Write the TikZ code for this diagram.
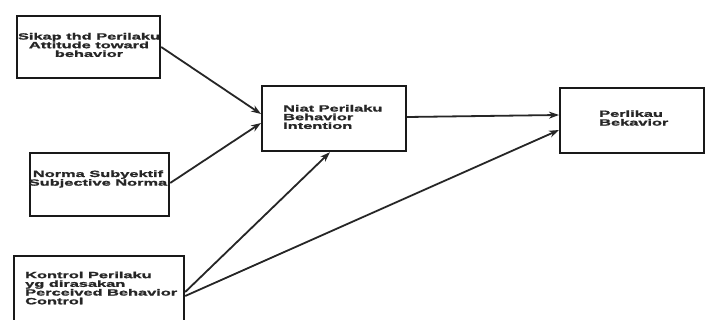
\documentclass[tikz,border=0pt]{standalone}
\usepackage{fontspec}
\newfontfamily\diagfont[FakeStretch=1.82,FakeBold=1.5]{Liberation Sans Bold}
\usetikzlibrary{arrows.meta,calc}
\begin{document}
\begin{tikzpicture}[x=1pt,y=-1pt,
  boxst/.style={draw=black!90,line width=2.2pt,minimum width=#1,inner sep=0pt,anchor=north west},
  txt/.style={font=\diagfont\fontsize{9}{8.7}\selectfont,inner sep=0pt,text=black!85},
  conn/.style={line width=1.8pt,draw=black!85,-{Stealth[length=10pt,width=7pt]}}]
\useasboundingbox (0,0) rectangle (705,320);
\clip (0,0) rectangle (705,320);
\fill[white] (0,0) rectangle (705,320);
\node[boxst=143pt,minimum height=62pt] (b1) at (16,15) {};
\node[boxst=139pt,minimum height=63pt] (b2) at (29,152) {};
\node[boxst=170pt,minimum height=80pt] (b3) at (13,255) {};
\node[boxst=144pt,minimum height=65pt] (b4) at (261,85) {};
\node[boxst=144pt,minimum height=65pt] (b5) at (559,87) {};
\node[txt,align=center] (t1) at (89,45) {Sikap thd Perilaku\\Attitude toward\\behavior};
\node[txt,align=center] (t2) at (98,179) {Norma Subyektif\\Subjective Norma};
\node[txt,align=left,anchor=west] (t3) at (25,288) {Kontrol Perilaku\\yg dirasakan\\Perceived Behavior\\Control};
\node[txt,align=left,anchor=west] (t4) at (283,117) {Niat Perilaku\\Behavior\\ Intention};
\node[txt,align=left,anchor=west] (t5) at (599,118) {Perlikau\\Bekavior};
\draw[conn] ($(b1.north east)+(0,32)$) -- ($(b4.north west)+(0,29)$);
\draw[conn] ($(b2.north east)+(0,31)$) -- ($(b4.north west)+(0,38)$);
\draw[conn] ($(b3.north east)+(0,37)$) -- ($(b4.south west)+(69,0)$);
\draw[conn] ($(b3.north east)+(0,41)$) -- ($(b5.north west)+(0,43)$);
\draw[conn] ($(b4.north east)+(0,32)$) -- ($(b5.north west)+(0,28)$);
\end{tikzpicture}
\end{document}
